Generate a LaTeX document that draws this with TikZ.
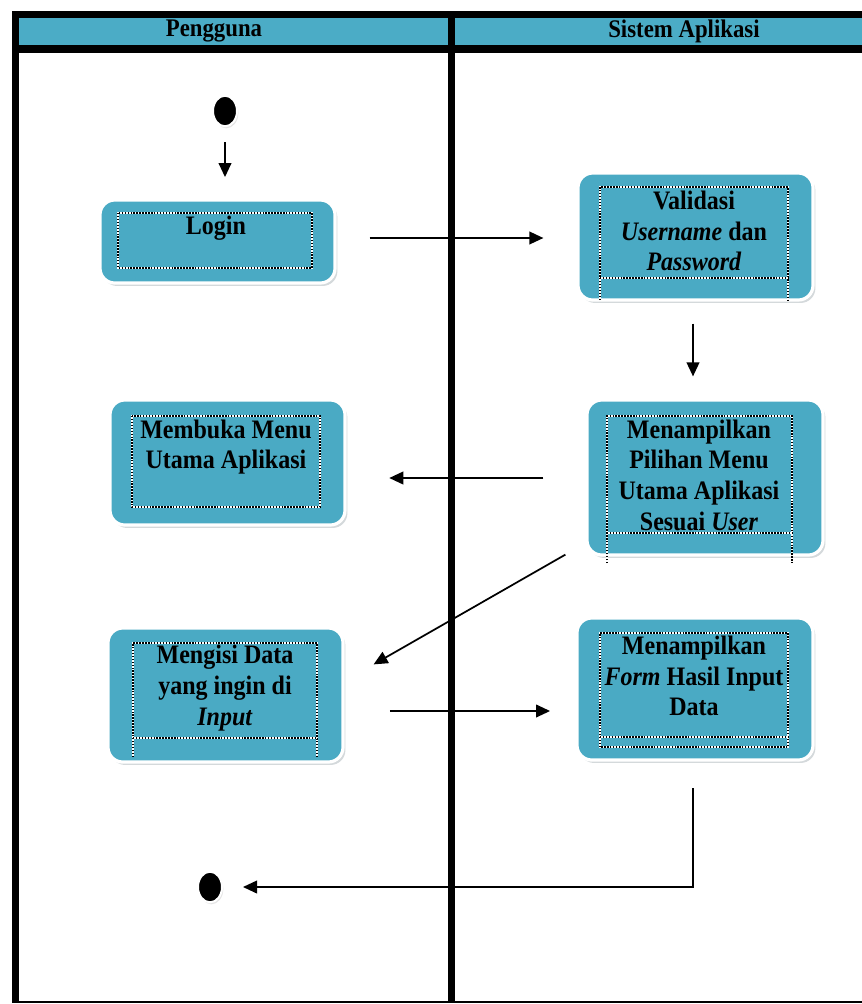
\documentclass[tikz,border=0pt]{standalone}
\usepackage{fontspec}
\setmainfont{Liberation Serif}[FakeStretch=0.9]
\usetikzlibrary{arrows.meta,positioning,calc,fit,shapes.geometric,shadows}
\definecolor{LaneBlue}{HTML}{4BACC6}
\definecolor{ActBlue}{HTML}{4AAAC4}
\definecolor{ShadowGray}{HTML}{A9B3B8}

\begin{document}
\begin{tikzpicture}[
  x=0.75pt,y=-0.75pt,
  act/.style={draw=white,line width=2.4pt,fill=ActBlue,rounded corners=11pt,inner sep=0pt,
    drop shadow={shadow xshift=1.8pt,shadow yshift=-2.2pt,fill=ShadowGray}},
  dotframe/.style={draw=black,line width=1.6pt,dash pattern=on 1.1pt off 1.1pt,
    preaction={draw=white,solid,line width=1.6pt}},
  txt/.style={font=\bfseries\fontsize{20}{23}\selectfont,align=center,inner sep=0pt},
  lanetxt/.style={font=\bfseries\fontsize{19}{22}\selectfont,inner sep=0pt},
  dot/.style={ellipse,fill=black,draw=white,line width=1.5pt,minimum width=18pt,minimum height=23pt,inner sep=0pt,
    drop shadow={shadow xshift=1pt,shadow yshift=-1.5pt,fill=black!20}},
  arr/.style={-{Triangle[length=10.5pt,width=9.5pt]},line width=1.3pt},
]
\useasboundingbox (0,0) rectangle (862,1004);
% swimlanes
\fill[black] (12,11) rectangle (870,53);
\fill[LaneBlue] (19,18) rectangle (448,45);
\fill[LaneBlue] (455,18) rectangle (870,45);
\fill[black] (12,11) rectangle (19,1003);
\fill[black] (448,11) rectangle (455,1003);
\draw[line width=1.5pt] (12,1002) -- (870,1002);
\node[lanetxt] (lane1) at (214,31) {Pengguna};
\node[lanetxt] (lane2) at (684,31) {Sistem Aplikasi};

% activities
\node[dot] (start) at (225,111) {};

\node[act,fit={(100,200) (335,283)}] (login) {};
\draw[dotframe] (118,213) rectangle (312,268);
\node[txt] (logintxt) at (216,228) {Login};

\node[act,fit={(578,173) (813,300)}] (valid) {};
\draw[dotframe] (600,300) -- (600,187) -- (788,187) -- (788,300);
\draw[dotframe] (600,278) -- (788,278);
\node[txt] (validtxt) at (694,231) {Validasi\\\textit{Username} dan\\\textit{Password}};

\node[act,fit={(587,400) (823,555)}] (pilihan) {};
\draw[dotframe] (607,563) -- (607,416) -- (792,416) -- (792,563);
\draw[dotframe] (607,533) -- (792,533);
\node[txt] (pilihantxt) at (699,475) {Menampilkan\\Pilihan Menu\\Utama Aplikasi\\Sesuai \textit{User}};

\node[act,fit={(110,400) (345,525)}] (membuka) {};
\draw[dotframe] (132,416) rectangle (320,507);
\node[txt] (membukatxt) at (226,447) {Membuka Menu\\Utama Aplikasi};

\node[act,fit={(108,628) (343,762)}] (mengisi) {};
\draw[dotframe] (133,757) -- (133,643) -- (317,643) -- (317,757);
\draw[dotframe] (133,738) -- (317,738);
\node[txt] (mengisitxt) at (225,688) {Mengisi Data\\yang ingin di\\\textit{Input}};

\node[act,fit={(577,618) (813,760)}] (form) {};
\draw[dotframe] (600,747) rectangle (788,633);
\draw[dotframe] (600,737) -- (788,737);
\node[txt] (formtxt) at (694,676) {Menampilkan\\\textit{Form} Hasil Input\\Data};

\node[dot] (end) at (210,887) {};

% flows
\draw[arr,shorten <=11pt,shorten >=16pt] (start) -- (start |- login.north);
\draw[arr,shorten <=24.75pt,shorten >=24.75pt] (login.east |- 0,238) -- (valid.west |- 0,238);
\draw[arr,shorten <=16.5pt,shorten >=16.5pt] (valid.south -| 693,0) -- (pilihan.north -| 693,0);
\draw[arr,shorten <=31.5pt,shorten >=32pt] (pilihan.west |- 0,478) -- (membuka.east |- 0,478);
\draw[arr] ($(pilihan.south west)+(-20,-2)$) -- ($(mengisi.north east)+(29,38)$);
\draw[arr,shorten <=34pt,shorten >=19pt] (mengisi.east |- 0,711) -- (form.west |- 0,711);
\draw[arr,shorten <=20pt,shorten >=15pt] (form.south -| 693,0) |- (end);
\end{tikzpicture}
\end{document}
